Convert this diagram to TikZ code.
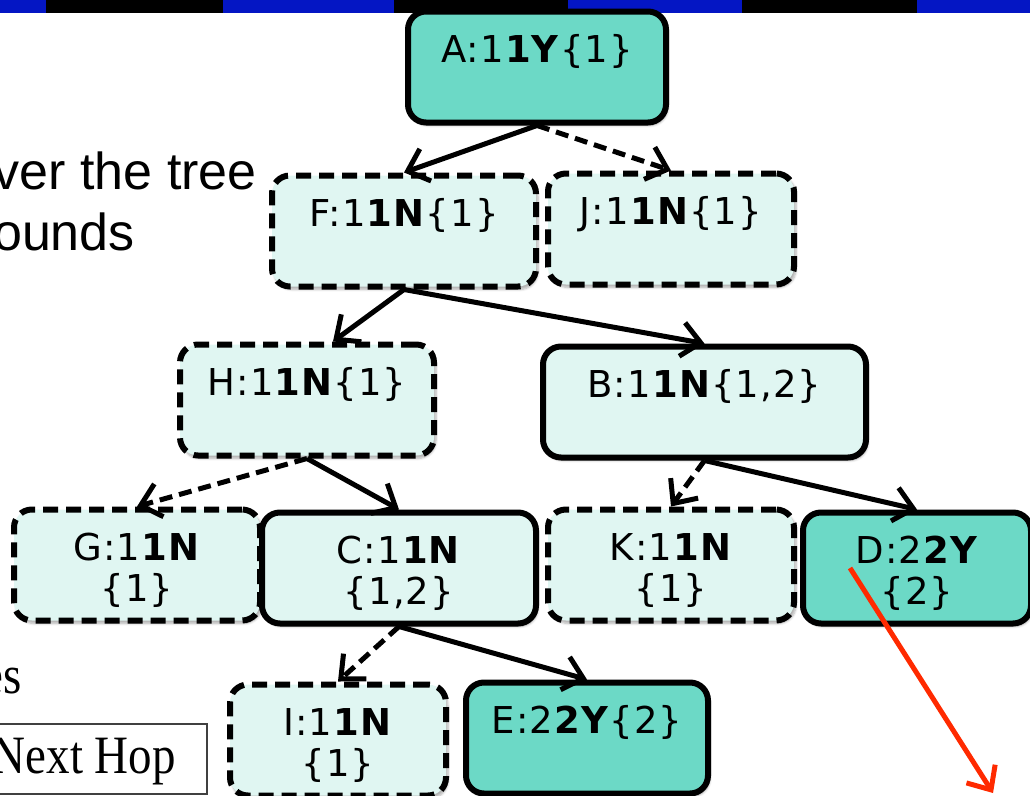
\documentclass[tikz,border=0pt]{standalone}
\usepackage{fontspec}
\usepackage{graphicx}
\setmainfont{DejaVu Sans}
\newfontfamily\nodefont{DejaVu Sans}[LetterSpace=3]
\newfontfamily\arialfont{Liberation Sans}
\newfontfamily\timesfont{Liberation Serif}
\usetikzlibrary{arrows.meta,shadows.blur}

\definecolor{stripblue}{RGB}{4,22,196}
\definecolor{tealfill}{RGB}{108,217,198}
\definecolor{palefill}{RGB}{224,246,242}
\definecolor{arrowred}{RGB}{255,42,0}

% two text lines per tree node, the first one pushed down from the top edge
\newcommand{\boxtext}[2]{\rule{0pt}{45pt}#1\strut\\#2\strut}

\begin{document}
\begin{tikzpicture}[x=1pt,y=-1pt,
  treenode/.style={rounded corners=18pt, line width=6pt, draw=black,
    minimum height=111pt, inner sep=0pt, align=center,
    font=\nodefont\fontsize{37}{41}\selectfont,
    blur shadow={shadow xshift=2pt, shadow yshift=-3pt,
      shadow blur steps=6, shadow opacity=30}},
  dashnode/.style={treenode, dash pattern=on 15pt off 8pt},
  yesnode/.style={treenode, fill=tealfill},
  nonode/.style={fill=palefill},
  link/.style={line width=5pt,
    -{Straight Barb[length=19pt,width=34pt,line width=5pt]}},
  weak/.style={link, dash pattern=on 13pt off 7pt},
  redlink/.style={line width=5pt, draw=arrowred,
    -{Straight Barb[length=19pt,width=34pt,line width=5pt]}},
  slidetext/.style={font=\arialfont\fontsize{52}{56}\selectfont, inner sep=0pt},
  papertext/.style={font=\timesfont\fontsize{54}{58}\selectfont, inner sep=0pt},
]
\useasboundingbox (0,0) rectangle (1030,795);

% title bar strip
\fill[stripblue] (0,0) rectangle (46,13);
\fill[black] (46,0) rectangle (223,13);
\fill[stripblue] (223,0) rectangle (394,13);
\fill[black] (394,0) rectangle (568,13);
\fill[stripblue] (568,0) rectangle (742,13);
\fill[black] (742,0) rectangle (917,13);
\fill[stripblue] (917,0) rectangle (1030,13);

% slide text on the left
\node[slidetext, anchor=base east] (line1) at (257,189) {ver the tree};
\node[slidetext, anchor=base east] (line2) at (135,250) {ounds};

% table fragment at the bottom left
\node[papertext, anchor=base east] (tabletext) at (22,693) {\scalebox{0.87}[1]{es}};
\node[draw=black!75, line width=1.6pt, minimum width=260pt, minimum height=70pt,
  anchor=north east] (hopcell) at (208,723) {};
\node[papertext, anchor=base east] (hoptext) at (176,773) {\scalebox{0.87}[1]{Next Hop}};

% tree nodes
\node[yesnode, minimum width=258pt] (A) at (537,67)
  {\boxtext{A:1\textbf{1Y}\{1\}}{}};
\node[dashnode, nonode, minimum width=264pt] (F) at (404,231)
  {\boxtext{F:1\textbf{1N}\{1\}}{}};
\node[dashnode, nonode, minimum width=246pt] (J) at (671,229)
  {\boxtext{J:1\textbf{1N}\{1\}}{}};
\node[dashnode, nonode, minimum width=254pt] (H) at (307,400)
  {\boxtext{H:1\textbf{1N}\{1\}}{}};
\node[treenode, nonode, minimum width=323pt] (B) at (704.5,402)
  {\boxtext{B:1\textbf{1N}\{1,2\}}{}};
\node[dashnode, nonode, minimum width=246pt] (G) at (137,565)
  {\boxtext{G:1\textbf{1N}}{\{1\}}};
\node[treenode, nonode, minimum width=274pt] (C) at (399,568)
  {\boxtext{C:1\textbf{1N}}{\{1,2\}}};
\node[dashnode, nonode, minimum width=246pt] (K) at (671,565)
  {\boxtext{K:1\textbf{1N}}{\{1\}}};
\node[yesnode, minimum width=228pt] (D) at (917,568)
  {\boxtext{D:2\textbf{2Y}}{\{2\}}};
\node[dashnode, nonode, minimum width=216pt] (I) at (338,740)
  {\boxtext{I:1\textbf{1N}}{\{1\}}};
\node[yesnode, minimum width=242pt] (E) at (587,738)
  {\boxtext{E:2\textbf{2Y}\{2\}}{}};

% tree edges
\draw[link] (A.south) -- (F.north);
\draw[weak] (A.south) -- (J.north);
\draw[link] (F.south) -- ([xshift=26pt]H.north);
\draw[link] (F.south) -- (B.north);
\draw[weak] (H.south) -- (G.north);
\draw[link] (H.south) -- (C.north);
\draw[weak] (B.south) -- (K.north);
\draw[link] (B.south) -- (D.north);
\draw[weak] (C.south) -- (I.north);
\draw[link] (C.south) -- (E.north);

% red pointer leaving D
\coordinate (redstart) at (850,568);
\coordinate (redend) at (993,793);
\draw[redlink] (redstart) -- (redend);
\end{tikzpicture}
\end{document}
